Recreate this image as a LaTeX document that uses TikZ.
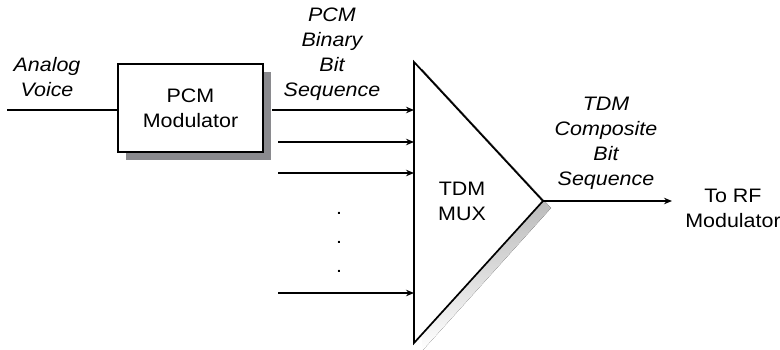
\documentclass[tikz,border=0pt]{standalone}
\usepackage{fontspec}
\setmainfont{Liberation Sans}[FakeStretch=1.1]
\usetikzlibrary{arrows.meta}
\definecolor{shade}{RGB}{138,138,142}
\tikzset{
  lbl/.style={align=center, inner sep=0pt, font=\fontsize{19.5}{25}\selectfont},
  ilbl/.style={lbl, font=\fontsize{19.5}{25}\selectfont\itshape},
  wire/.style={line width=2.2pt},
  sig/.style={wire, -{Stealth[length=8pt,width=6.5pt]}},
  blockbox/.style={draw, line width=1.6pt, fill=white, minimum width=145pt, minimum height=88pt, inner sep=0pt},
  shadowbox/.style={fill=shade, minimum width=145pt, minimum height=88pt, inner sep=0pt},
}
\begin{document}
\begin{tikzpicture}[x=1pt,y=-1pt]
\useasboundingbox (0,0) rectangle (780,350);
% PCM modulator with shadow
\node[shadowbox] (pcmsh) at (198.5,116) {};
\node[blockbox, lbl] (pcm) at (190.5,108) {PCM\\Modulator};
% Triangle MUX
\coordinate (tA) at (414,62);
\coordinate (tB) at (414,343);
\coordinate (tC) at (543,201);
\coordinate (sA) at (422,69);
\coordinate (sB) at (422,351);
\coordinate (sC) at (551,208);
\fill[shade] (sA) -- (sC) -- (sB) -- cycle;
\draw[line width=1.7pt, fill=white, line join=miter] (tA) -- (tC) -- (tB) -- cycle;
\node[lbl] (mux) at (462,201) {TDM\\MUX};
% input
\coordinate (vin) at (7,110);
\draw[wire] (vin) -- (pcm.west |- vin);
% arrows into MUX
\coordinate (s1) at (272,110);
\coordinate (s2) at (278,142);
\coordinate (s3) at (278,173);
\coordinate (s4) at (278,293);
\coordinate (e1) at (414,110);
\coordinate (e2) at (414,142);
\coordinate (e3) at (414,173);
\coordinate (e4) at (414,293);
\draw[sig] (s1) -- (e1);
\draw[sig] (s2) -- (e2);
\draw[sig] (s3) -- (e3);
\draw[sig] (s4) -- (e4);
% dots
\node[lbl] (d1) at (339,213) {.};
\node[lbl] (d2) at (339,242) {.};
\node[lbl] (d3) at (339,271) {.};
% output
\coordinate (oend) at (672,201);
\draw[sig] (tC) -- (oend);
% labels
\node[ilbl] (av) at (47,77) {Analog\\Voice};
\node[ilbl] (pbs) at (332,54) {PCM\\Binary\\Bit\\Sequence};
\node[ilbl] (tcs) at (606,143) {TDM\\Composite\\Bit\\Sequence};
\node[lbl] (rf) at (733,208) {To RF\\Modulator};
\end{tikzpicture}
\end{document}
